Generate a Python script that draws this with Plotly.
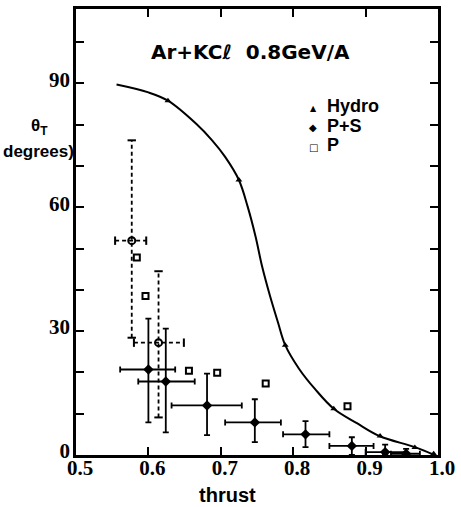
import plotly.graph_objects as go

# Hydro curve
curve_x = [0.556, 0.600, 0.627, 0.666, 0.688, 0.706, 0.725, 0.737, 0.748, 0.757, 0.768,
           0.779, 0.789, 0.808, 0.830, 0.856, 0.888, 0.919, 0.968, 0.995]
curve_y = [89.7, 87.8, 85.8, 80.2, 76.2, 72.2, 66.6, 60.2, 52.9, 45.7, 38.5,
           32.1, 26.6, 20.9, 16.0, 11.2, 7.7, 4.6, 1.9, 0.0]

# Hydro points
hydro_x = [0.627, 0.725, 0.789, 0.856, 0.920, 0.968, 0.994]
hydro_y = [85.8, 66.6, 26.6, 11.2, 4.6, 1.8, 0.3]

# P+S points with error ranges
ps_x = [0.600, 0.624, 0.681, 0.747, 0.817, 0.881, 0.927, 0.956]
ps_y = [20.7, 17.8, 12.0, 7.9, 5.0, 2.2, 0.7, 0.3]
ps_xlo = [0.561, 0.586, 0.632, 0.706, 0.786, 0.850, 0.900, 0.935]
ps_xhi = [0.637, 0.664, 0.729, 0.783, 0.850, 0.911, 0.956, 0.975]
ps_ylo = [7.9, 5.5, 4.8, 3.1, 1.9, 0.0, 0.0, 0.0]
ps_yhi = [33.0, 30.6, 19.7, 13.5, 8.2, 4.3, 2.5, 1.5]

# P points
p_x = [0.584, 0.596, 0.656, 0.695, 0.762, 0.875]
p_y = [47.8, 38.5, 20.4, 19.9, 17.3, 11.8]

# Points with dashed error bars
d_x = [0.577, 0.614]
d_y = [51.9, 27.2]
d_xlo = [0.554, 0.580]
d_xhi = [0.597, 0.649]
d_ylo = [28.4, 9.1]
d_yhi = [76.2, 44.5]

y_tickvals = [0, 10, 20, 30, 40, 50, 60, 70, 80, 90, 100]
y_ticktext = ["0", "", "", "30", "", "", "60", "", "", "90", ""]
x_tickvals = [0.5, 0.6, 0.7, 0.8, 0.9, 1.0]
x_ticktext = ["0.5", "0.6", "0.7", "0.8", "0.9", "1.0"]

legend_symbols = ["▲", "◆", "□"]
legend_names = ["Hydro", "P+S", "P"]
legend_symbol_sizes = [8, 10, 10]

fig = go.Figure()

fig.add_trace(go.Scatter(x=curve_x, y=curve_y, mode="lines",
                         line=dict(color="black", width=2, shape="spline", smoothing=1.0),
                         showlegend=False, hoverinfo="skip"))

# dashed error bars
vx, vy, hx, hy = [], [], [], []
for i in range(len(d_x)):
    vx += [d_x[i], d_x[i], None]
    vy += [d_ylo[i], d_yhi[i], None]
    hx += [d_xlo[i], d_xhi[i], None]
    hy += [d_y[i], d_y[i], None]
fig.add_trace(go.Scatter(x=vx + hx, y=vy + hy, mode="lines",
                         line=dict(color="black", width=1.8, dash="4px,3px"),
                         showlegend=False, hoverinfo="skip"))
fig.add_trace(go.Scatter(x=d_x + d_x, y=d_yhi + d_ylo, mode="markers",
                         marker=dict(symbol="line-ew-open", size=6, color="black",
                                     line=dict(color="black", width=2)),
                         showlegend=False, hoverinfo="skip"))
fig.add_trace(go.Scatter(x=d_xlo + d_xhi, y=d_y + d_y, mode="markers",
                         marker=dict(symbol="line-ns-open", size=6, color="black",
                                     line=dict(color="black", width=2)),
                         showlegend=False, hoverinfo="skip"))
fig.add_trace(go.Scatter(x=d_x, y=d_y, mode="markers",
                         marker=dict(symbol="circle-open", size=7, color="black",
                                     line=dict(color="black", width=2)),
                         showlegend=False, hoverinfo="skip"))

fig.add_trace(go.Scatter(x=hydro_x, y=hydro_y, mode="markers", name="Hydro",
                         marker=dict(symbol="triangle-up", size=6, color="black"),
                         showlegend=False))

fig.add_trace(go.Scatter(
    x=ps_x, y=ps_y, mode="markers", name="P+S", showlegend=False,
    marker=dict(symbol="diamond", size=8, color="black"),
    error_x=dict(type="data", symmetric=False,
                 array=[h - c for h, c in zip(ps_xhi, ps_x)],
                 arrayminus=[c - l for l, c in zip(ps_xlo, ps_x)],
                 color="black", thickness=1.8, width=3),
    error_y=dict(type="data", symmetric=False,
                 array=[h - c for h, c in zip(ps_yhi, ps_y)],
                 arrayminus=[c - l for l, c in zip(ps_ylo, ps_y)],
                 color="black", thickness=1.8, width=3)))

fig.add_trace(go.Scatter(x=p_x, y=p_y, mode="markers", name="P", showlegend=False,
                         marker=dict(symbol="square-open", size=6, color="black",
                                     line=dict(color="black", width=2))))

tickfont = dict(family="Liberation Sans Narrow", size=21, color="black", weight="bold")

fig.update_xaxes(range=[0.5, 1.0], tickvals=x_tickvals, ticktext=x_ticktext,
                 ticks="inside", ticklen=8, tickwidth=2, tickcolor="black",
                 showline=True, linewidth=2.5, linecolor="black", mirror="ticks",
                 showgrid=False, zeroline=False, tickfont=tickfont,
                 ticklabeloverflow="allow", ticklabelstandoff=-8, ticklabelshift=4)
fig.update_yaxes(range=[0, 108], tickvals=y_tickvals, ticktext=y_ticktext,
                 ticks="inside", ticklen=8, tickwidth=2, tickcolor="black",
                 showline=True, linewidth=2.5, linecolor="black", mirror="ticks",
                 showgrid=False, zeroline=False, tickfont=tickfont,
                 ticklabelstandoff=-1, ticklabelshift=-4)

fig.add_annotation(text="Ar+KCℓ  0.8GeV/A", x=0.741, y=97.5, xref="x", yref="y",
                   showarrow=False,
                   font=dict(family="DejaVu Sans", size=20, color="black", weight="bold"))
fig.add_annotation(text="θ<sub>T</sub>", x=-0.1, y=0.735, xref="paper", yref="paper",
                   showarrow=False, xanchor="center", yanchor="middle",
                   font=dict(family="Liberation Sans", size=17, color="black", weight="bold"))
fig.add_annotation(text="degrees)", x=0.0, y=0.68, xref="paper", yref="paper",
                   showarrow=False, xanchor="right", yanchor="middle",
                   font=dict(family="Liberation Sans", size=17, color="black", weight="bold"))
fig.add_annotation(text="thrust", x=0.709, y=-0.089, xref="x", yref="paper",
                   showarrow=False, xanchor="center", yanchor="middle",
                   font=dict(family="Liberation Sans", size=20, color="black", weight="bold"))

# legend as annotations
for i, (sym, name, ss) in enumerate(zip(legend_symbols, legend_names, legend_symbol_sizes)):
    ypos = 0.778 - i * 0.044
    fig.add_annotation(text=sym, x=0.656, y=ypos, xref="paper", yref="paper",
                       showarrow=False, xanchor="center", yanchor="middle",
                       font=dict(family="DejaVu Sans", size=ss, color="black"))
    fig.add_annotation(text=name, x=0.688, y=ypos + 0.004, xref="paper", yref="paper",
                       showarrow=False, xanchor="left", yanchor="middle",
                       font=dict(family="Liberation Sans", size=18, color="black",
                                 weight="bold"))

fig.update_layout(
    width=461, height=507,
    margin=dict(l=76, r=10, t=6, b=52),
    paper_bgcolor="white", plot_bgcolor="white",
    showlegend=False,
)

fig.write_html("out.html", config={"displayModeBar": False},
               post_script="document.body.style.margin='0';document.body.style.overflow='hidden';")
